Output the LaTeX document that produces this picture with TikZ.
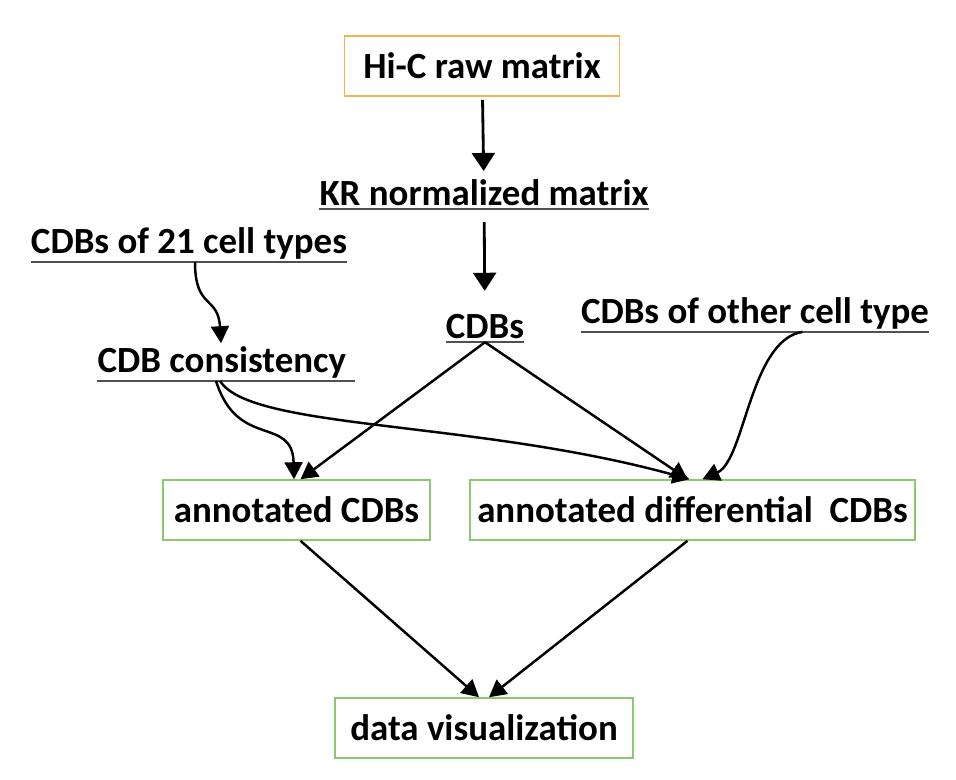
\documentclass[tikz,border=0pt]{standalone}
\usepackage{fontspec}
\setmainfont{Carlito}
\usetikzlibrary{arrows.meta}
\usetikzlibrary{positioning}
\definecolor{boxgreen}{RGB}{140,200,110}
\definecolor{boxorange}{RGB}{240,180,80}
\definecolor{ulgray}{RGB}{80,80,80}
\tikzstyle{bx}=[draw=boxgreen,rectangle,line width=0.9pt,minimum height=1.2cm,inner sep=2pt,font=\bfseries\fontsize{21}{25}\selectfont]
\tikzstyle{ul}=[inner xsep=0pt,inner ysep=1.5pt,font=\bfseries\fontsize{21}{25}\selectfont,append after command={(\tikzlastnode.south west) edge[draw=ulgray,line width=1.2pt] (\tikzlastnode.south east)}]
\tikzstyle{arr}=[line width=1.4pt,-{Triangle[length=0.34cm,width=0.36cm]}]
\tikzstyle{bigarr}=[line width=1.6pt,-{Triangle[length=0.36cm,width=0.46cm]}]

\begin{document}
\begin{tikzpicture}
      \useasboundingbox (0,0) rectangle (19.12,-15.58);
      \node [bx,draw=boxorange,minimum width=5.5cm] (raw) at (9.64,-1.32) {Hi-C raw matrix};
      \node [ul] (kr) at (9.68,-3.86) {KR normalized matrix};
      \node [ul] (cdbs) at (9.7,-6.54) {CDBs};
      \node [ul] (c21) at (3.78,-4.86) {CDBs of 21 cell types};
      \node [ul] (cons) at (4.52,-7.24) {CDB consistency\ \ };
      \node [ul] (other) at (15.1,-6.26) {CDBs of other cell type};
      \node [bx,minimum width=5.34cm] (ann) at (5.93,-10.2) {annotated CDBs};
      \node [bx,minimum width=8.9cm] (diff) at (13.85,-10.2) {annotated differential\ \ CDBs};
      \node [bx,minimum width=5.96cm] (vis) at (9.68,-14.56) {data visualization};
      \draw [bigarr,shorten <=0.06cm,shorten >=0.12cm] (raw) -- (kr);
      \draw [bigarr,shorten <=0.26cm,shorten >=0.42cm] (kr) -- (cdbs);
      \draw [arr] ([xshift=0.12cm]c21.south) .. controls (3.9,-6.2) and (4.36,-5.9) .. ([xshift=-0.1cm]cons.north);
      \draw [arr] (cdbs.south) -- ([xshift=0.08cm]ann.north);
      \draw [arr] (cdbs.south) -- ([xshift=-0.1cm]diff.north);
      \draw [arr] ([xshift=-0.2cm]cons.south) .. controls (4.75,-9.0) and (5.85,-8.3) .. ([xshift=-0.05cm]ann.north);
      \draw [arr] ([xshift=-0.12cm]cons.south) .. controls (5.0,-8.6) and (9.5,-8.4) .. ([xshift=-0.06cm]diff.north);
      \draw [arr] ([xshift=0.95cm]other.south) .. controls (15,-6.8) and (14.9,-9.2) .. ([xshift=0.2cm]diff.north);
      \draw [arr] ([xshift=0.08cm]ann.south) -- ([xshift=-0.1cm]vis.north);
      \draw [arr] ([xshift=-0.1cm]diff.south) -- ([xshift=0.1cm]vis.north);
\end{tikzpicture}
\end{document}
